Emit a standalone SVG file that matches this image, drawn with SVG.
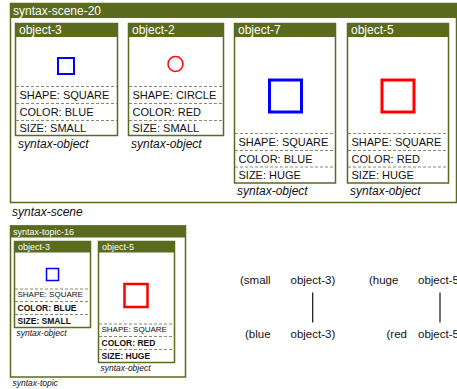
<svg xmlns="http://www.w3.org/2000/svg" width="457" height="389" viewBox="0 0 457 389">
<style>
.frame{fill:#fff;stroke:#5a6a1e;stroke-width:1.5}
.hdr{fill:#5a6a1e}
.ht{fill:#fff;font-family:"Liberation Sans",Arial,sans-serif;font-size:12px}
.hts{fill:#fff;font-family:"Liberation Sans",Arial,sans-serif;font-size:9px}
.p{fill:#111;font-family:"Liberation Sans",Arial,sans-serif;font-size:11px}
.ps{fill:#111;font-family:"Liberation Sans",Arial,sans-serif;font-size:8px}
.pb{fill:#111;font-family:"Liberation Sans",Arial,sans-serif;font-size:8.5px;font-weight:bold}
.lab{fill:#111;font-family:"Liberation Sans",Arial,sans-serif;font-size:12px;font-style:italic}
.labs{fill:#111;font-family:"Liberation Sans",Arial,sans-serif;font-size:8.5px;font-style:italic}
.dash{stroke:#8a8a6a;stroke-width:1;stroke-dasharray:3,2}
.t{fill:#111;font-family:"Liberation Sans",Arial,sans-serif;font-size:11.5px}
.conn{stroke:#111;stroke-width:1.2}
</style>
<g id="syntax-scene-20">
<rect class="frame" x="10.5" y="3.5" width="446" height="199"/>
<rect class="hdr" x="10" y="3" width="447" height="15"/>
<text class="ht" x="13" y="15">syntax-scene-20</text>
<text class="lab" x="12" y="216">syntax-scene</text>
</g>
<g id="scene-object-3">
<rect class="frame" x="15.5" y="23.5" width="102" height="112"/>
<rect class="hdr" x="15" y="23" width="103" height="14"/>
<text class="ht" x="19" y="34">object-3</text>
<rect x="58" y="58" width="16" height="16" fill="none" stroke="#0000ff" stroke-width="2"/>
<line class="dash" x1="16" y1="86.5" x2="117" y2="86.5"/>
<line class="dash" x1="16" y1="103.5" x2="117" y2="103.5"/>
<line class="dash" x1="16" y1="120.5" x2="117" y2="120.5"/>
<text class="p" x="19.5" y="99">SHAPE: SQUARE</text>
<text class="p" x="19.5" y="115.5">COLOR: BLUE</text>
<text class="p" x="19.5" y="132">SIZE: SMALL</text>
<text class="lab" x="18" y="148">syntax-object</text>
</g>
<g id="scene-object-2">
<rect class="frame" x="128.5" y="23.5" width="95" height="112"/>
<rect class="hdr" x="128" y="23" width="96" height="14"/>
<text class="ht" x="132" y="34">object-2</text>
<circle cx="175.5" cy="64" r="7.5" fill="none" stroke="#ff0000" stroke-width="1.5"/>
<line class="dash" x1="129" y1="86.5" x2="223" y2="86.5"/>
<line class="dash" x1="129" y1="103.5" x2="223" y2="103.5"/>
<line class="dash" x1="129" y1="120.5" x2="223" y2="120.5"/>
<text class="p" x="132.5" y="99">SHAPE: CIRCLE</text>
<text class="p" x="132.5" y="115.5">COLOR: RED</text>
<text class="p" x="132.5" y="132">SIZE: SMALL</text>
<text class="lab" x="131" y="148">syntax-object</text>
</g>
<g id="scene-object-7">
<rect class="frame" x="234.5" y="23.5" width="101" height="159.5"/>
<rect class="hdr" x="234" y="23" width="102" height="14"/>
<text class="ht" x="238" y="34">object-7</text>
<rect x="269.5" y="80" width="32" height="32" fill="none" stroke="#0000ff" stroke-width="3"/>
<line class="dash" x1="235" y1="133.5" x2="335" y2="133.5"/>
<line class="dash" x1="235" y1="150.5" x2="335" y2="150.5"/>
<line class="dash" x1="235" y1="167" x2="335" y2="167"/>
<text class="p" x="238.5" y="146">SHAPE: SQUARE</text>
<text class="p" x="238.5" y="162.5">COLOR: BLUE</text>
<text class="p" x="238.5" y="179">SIZE: HUGE</text>
<text class="lab" x="237" y="195">syntax-object</text>
</g>
<g id="scene-object-5">
<rect class="frame" x="347.5" y="23.5" width="101" height="159.5"/>
<rect class="hdr" x="347" y="23" width="102" height="14"/>
<text class="ht" x="351" y="34">object-5</text>
<rect x="382" y="80" width="32" height="32" fill="none" stroke="#ff0000" stroke-width="3"/>
<line class="dash" x1="348" y1="133.5" x2="448" y2="133.5"/>
<line class="dash" x1="348" y1="150.5" x2="448" y2="150.5"/>
<line class="dash" x1="348" y1="167" x2="448" y2="167"/>
<text class="p" x="351.5" y="146">SHAPE: SQUARE</text>
<text class="p" x="351.5" y="162.5">COLOR: RED</text>
<text class="p" x="351.5" y="179">SIZE: HUGE</text>
<text class="lab" x="350" y="195">syntax-object</text>
</g>
<g id="syntax-topic-16">
<rect class="frame" x="10.5" y="226" width="175" height="151"/>
<rect class="hdr" x="10" y="225.5" width="176" height="12"/>
<text class="hts" x="13" y="235">syntax-topic-16</text>
<text class="labs" x="12.5" y="386">syntax-topic</text>
</g>
<g id="topic-object-3">
<rect class="frame" x="14.5" y="241.5" width="76" height="86"/>
<rect class="hdr" x="14" y="241" width="77" height="11.5"/>
<text class="hts" x="18" y="250">object-3</text>
<rect x="46.5" y="268.5" width="12" height="12" fill="none" stroke="#0000ff" stroke-width="1.5"/>
<line class="dash" x1="15" y1="289" x2="90" y2="289" stroke-dasharray="1.5,1.5"/>
<line class="dash" x1="15" y1="301.5" x2="90" y2="301.5"/>
<line class="dash" x1="15" y1="314.5" x2="90" y2="314.5"/>
<text class="ps" x="17.5" y="297">SHAPE: SQUARE</text>
<text class="pb" x="17.5" y="310.5">COLOR: BLUE</text>
<text class="pb" x="17.5" y="324">SIZE: SMALL</text>
<text class="labs" x="16.5" y="336">syntax-object</text>
</g>
<g id="topic-object-5">
<rect class="frame" x="98.5" y="241.5" width="76" height="121"/>
<rect class="hdr" x="98" y="241" width="77" height="11.5"/>
<text class="hts" x="102" y="250">object-5</text>
<rect x="124.5" y="284" width="23" height="23" fill="none" stroke="#ff0000" stroke-width="2.5"/>
<line class="dash" x1="99" y1="324" x2="174" y2="324" stroke-dasharray="1.5,1.5"/>
<line class="dash" x1="99" y1="336.5" x2="174" y2="336.5"/>
<line class="dash" x1="99" y1="349.5" x2="174" y2="349.5"/>
<text class="ps" x="101.5" y="332">SHAPE: SQUARE</text>
<text class="pb" x="101.5" y="345.5">COLOR: RED</text>
<text class="pb" x="101.5" y="359">SIZE: HUGE</text>
<text class="labs" x="100.5" y="370.5">syntax-object</text>
</g>
<g id="pair-small">
<text class="t" x="240" y="283.5">(small</text>
<text class="t" x="290.5" y="283.5">object-3)</text>
</g>
<g id="pair-blue">
<text class="t" x="245" y="337.5">(blue</text>
<text class="t" x="290.5" y="337.5">object-3)</text>
</g>
<g id="pair-huge">
<text class="t" x="369" y="283.5">(huge</text>
<text class="t" x="418" y="283.5">object-5)</text>
</g>
<g id="pair-red">
<text class="t" x="386.5" y="337.5">(red</text>
<text class="t" x="418" y="337.5">object-5)</text>
</g>
<g id="connectors">
<line class="conn" x1="312.7" y1="292.5" x2="312.7" y2="322.5"/>
<line class="conn" x1="440" y1="292.5" x2="440" y2="322.5"/>
</g>
</svg>
